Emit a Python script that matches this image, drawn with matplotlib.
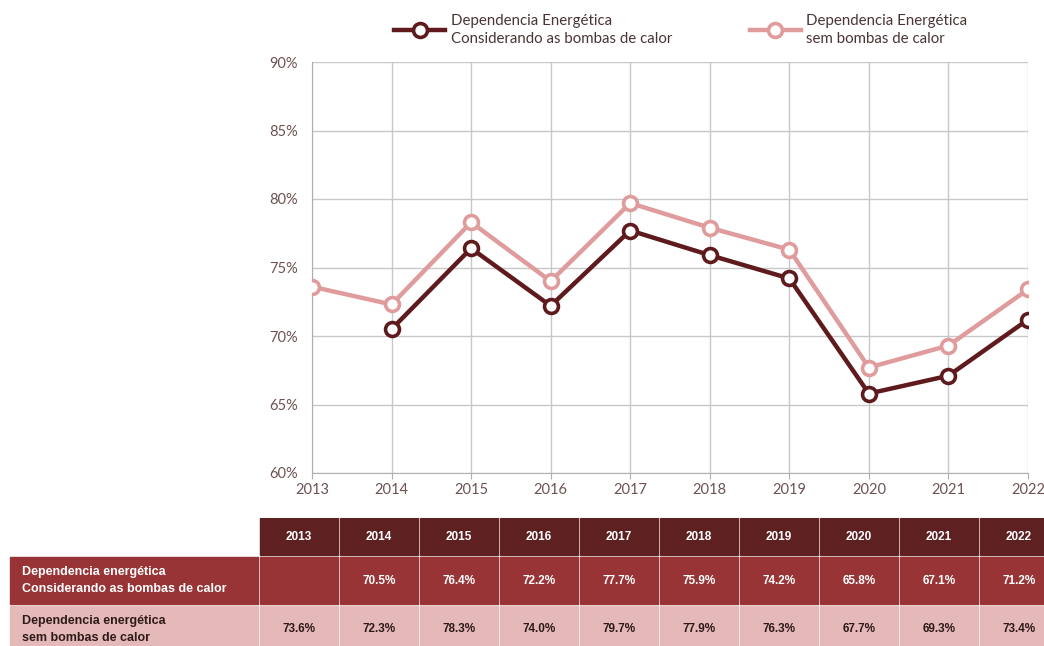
import numpy as np
import matplotlib
matplotlib.use("Agg")
from matplotlib import pyplot as plt
from matplotlib.patches import Rectangle

years = [2013, 2014, 2015, 2016, 2017, 2018, 2019, 2020, 2021, 2022]
com_bombas = [np.nan, 70.5, 76.4, 72.2, 77.7, 75.9, 74.2, 65.8, 67.1, 71.2]
sem_bombas = [73.6, 72.3, 78.3, 74.0, 79.7, 77.9, 76.3, 67.7, 69.3, 73.4]
yticks = [60, 65, 70, 75, 80, 85, 90]

label_com = "Dependencia Energética\nConsiderando as bombas de calor"
label_sem = "Dependencia Energética\nsem bombas de calor"
row_com = "Dependencia energética\nConsiderando as bombas de calor"
row_sem = "Dependencia energética\nsem bombas de calor"

dark = "#5e1a1c"
light = "#e09c9c"
head_bg = "#5f2022"
row1_bg = "#983436"
row2_bg = "#e6b9b9"
tick_col = "#6e5252"

plt.rcParams["font.family"] = ["Lato", "DejaVu Sans"]

fig = plt.figure(figsize=(10.44, 6.46), dpi=100)
ax = fig.add_axes([312 / 1044, 1 - 473 / 646, (1028 - 312) / 1044, (473 - 62) / 646])

ax.plot(years, sem_bombas, color=light, lw=3.2, marker="o", ms=10,
        mfc="white", mec=light, mew=2.6, label=label_sem, zorder=3)
ax.plot(years, com_bombas, color=dark, lw=3.2, marker="o", ms=10,
        mfc="white", mec=dark, mew=2.6, label=label_com, zorder=4)

ax.set_xlim(years[0], years[-1])
ax.set_ylim(60, 90)
ax.set_xticks(years)
ax.set_yticks(yticks)
ax.set_yticklabels([f"{v}%" for v in yticks])
ax.grid(True, color="#c8c8c8", lw=1)
ax.set_axisbelow(True)
for s in ["top", "right"]:
    ax.spines[s].set_visible(False)
for s in ["left", "bottom"]:
    ax.spines[s].set_color("#b0b0b0")
ax.tick_params(colors=tick_col, labelsize=10.5, length=4, color="#b0b0b0")
ax.tick_params(axis="y", length=0, pad=10)

handles, labels = ax.get_legend_handles_labels()
leg = fig.legend(handles[::-1], labels[::-1], loc="upper center", ncol=2,
                 bbox_to_anchor=(0.652, 1.0), frameon=False, fontsize=10.8,
                 handlelength=3.4, columnspacing=5.2, labelcolor="#4a3535",
                 handletextpad=0.35)
for t in leg.get_texts():
    t.set_linespacing(1.45)

# data table under the chart, in pixel units
tab = fig.add_axes([0, 0, 1, 128 / 646])
tab.set_xlim(0, 1044)
tab.set_ylim(646, 518)
tab.axis("off")

narrow = ["Liberation Sans Narrow", "Liberation Sans", "DejaVu Sans"]
col_w = 80
x0 = 260
rows = [(518, 37), (557, 47), (606, 47)]

for i, yr in enumerate(years):
    x = x0 + i * col_w
    y, h = rows[0]
    tab.add_patch(Rectangle((x, y), col_w - 2, h, color=head_bg))
    tab.text(x + (col_w - 2) / 2, y + h / 2, str(yr), color="white",
             ha="center", va="center", fontsize=8.5, fontweight="bold", family=narrow)
    for (y, h), vals, bg, fg in [(rows[1], com_bombas, row1_bg, "white"),
                                 (rows[2], sem_bombas, row2_bg, "#2e1a1a")]:
        tab.add_patch(Rectangle((x, y), col_w - 2, h, color=bg))
        if not np.isnan(vals[i]):
            tab.text(x + (col_w - 2) / 2, y + h / 2, f"{vals[i]:.1f}%", color=fg,
                     ha="center", va="center", fontsize=8.5, fontweight="bold", family=narrow)

for (y, h), txt, bg, fg in [(rows[1], row_com, row1_bg, "white"),
                            (rows[2], row_sem, row2_bg, "#2e1a1a")]:
    tab.add_patch(Rectangle((10, y), 248, h, color=bg))
    tab.text(22, y + h / 2, txt, color=fg, ha="left", va="center",
             fontsize=9, fontweight="bold", family=narrow, linespacing=1.5)

fig.savefig("out.png", dpi=100)
